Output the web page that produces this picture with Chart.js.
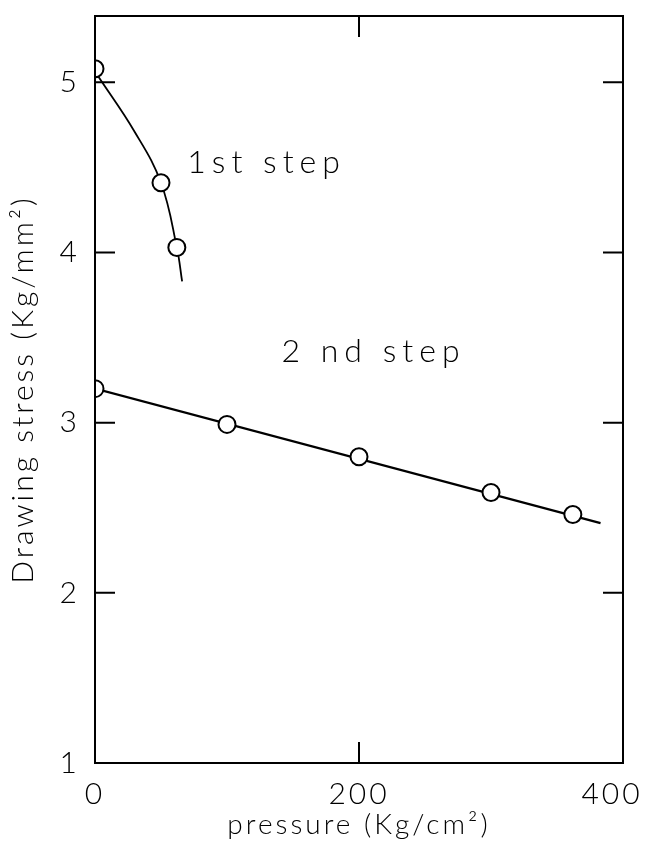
<!DOCTYPE html>
<html>
<head>
<meta charset="utf-8">
<script src="https://cdn.jsdelivr.net/npm/chart.js@4.4.1/dist/chart.umd.min.js"></script>
<style>
  html, body { margin: 0; padding: 0; background: #fff; }
</style>
</head>
<body>
<canvas id="chart" width="645" height="842"></canvas>
<script>
// measured points, 1st and 2nd drawing step
const step1Pressure = [0, 50, 62]
const step1Stress = [5.08, 4.41, 4.03]
const step2Pressure = [0, 100, 200, 300, 362]
const step2Stress = [3.20, 2.99, 2.80, 2.59, 2.46]

// hand drawn curves through the points
const curve1Pressure = [2, 30, 50, 62, 66]
const curve1Stress = [5.04, 4.71, 4.41, 4.03, 3.83]
const curve2Pressure = [0, 383]
const curve2Stress = [3.20, 2.41]

const xTicks = [0, 200, 400]
const yTicks = [1, 2, 3, 4, 5]
const xInnerTicks = [200]
const yInnerTicks = [2, 3, 4, 5]

const labels = [
  { text: "1st step", x: 130, y: 4.53 },
  { text: "2 nd step", x: 211, y: 3.42 }
]

const FONT = "Lato"
const toPoints = (xs, ys) => xs.map((x, i) => ({ x, y: ys[i] }))

const frame = {
  id: "frame",
  afterDatasetsDraw(chart) {
    const { ctx, chartArea: a, scales: { x, y } } = chart
    ctx.save()
    ctx.strokeStyle = "#000"
    ctx.lineWidth = 2
    ctx.strokeRect(a.left, a.top, a.right - a.left, a.bottom - a.top)
    ctx.beginPath()
    yInnerTicks.forEach((v) => {
      const py = y.getPixelForValue(v)
      ctx.moveTo(a.left, py); ctx.lineTo(a.left + 20, py)
      ctx.moveTo(a.right, py); ctx.lineTo(a.right - 20, py)
    })
    xInnerTicks.forEach((v) => {
      const px = x.getPixelForValue(v)
      ctx.moveTo(px, a.bottom); ctx.lineTo(px, a.bottom - 21)
      ctx.moveTo(px, a.top); ctx.lineTo(px, a.top + 21)
    })
    ctx.stroke()

    ctx.fillStyle = "#000"
    ctx.font = `300 32px ${FONT}`
    ctx.letterSpacing = "6px"
    ctx.textAlign = "center"
    ctx.textBaseline = "middle"
    labels.forEach((l) => {
      ctx.fillText(l.text, x.getPixelForValue(l.x), y.getPixelForValue(l.y))
    })
    ctx.restore()
  }
}

const spaced = {
  id: "spaced",
  beforeDraw(chart) {
    chart.ctx.letterSpacing = "3px"
    // the "400" label sits a little inside the frame in the original
    const items = chart.scales.x.getLabelItems()
    const last = items[items.length - 1]
    if (last && !last.shifted) {
      last.options.translation[0] -= 11
      last.shifted = true
    }
  },
  afterDraw(chart) { chart.ctx.letterSpacing = "0px" }
}

new Chart(document.getElementById("chart"), {
  type: "scatter",
  data: {
    datasets: [
      {
        data: toPoints(step1Pressure, step1Stress),
        pointStyle: "circle",
        pointRadius: 8.5,
        pointBorderWidth: 2,
        pointBackgroundColor: "#fff",
        pointBorderColor: "#000",
        order: 0
      },
      {
        data: toPoints(step2Pressure, step2Stress),
        pointStyle: "circle",
        pointRadius: 8.5,
        pointBorderWidth: 2,
        pointBackgroundColor: "#fff",
        pointBorderColor: "#000",
        order: 0
      },
      {
        data: toPoints(curve1Pressure, curve1Stress),
        showLine: true,
        tension: 0.4,
        borderColor: "#000",
        borderWidth: 1.8,
        pointRadius: 0,
        order: 1
      },
      {
        data: toPoints(curve2Pressure, curve2Stress),
        showLine: true,
        borderColor: "#000",
        borderWidth: 2.2,
        pointRadius: 0,
        order: 1
      }
    ]
  },
  options: {
    responsive: false,
    animation: false,
    layout: { padding: { top: 16, right: 22, left: 0, bottom: 0 } },
    plugins: {
      legend: { display: false },
      tooltip: { enabled: false }
    },
    scales: {
      x: {
        type: "linear",
        min: 0,
        max: 400,
        afterBuildTicks: (scale) => { scale.ticks = xTicks.map((value) => ({ value })) },
        afterFit: (scale) => {
          scale.height = 79
          scale.paddingLeft = 0
          scale.paddingRight = 0
        },
        grid: { display: false, drawTicks: false },
        border: { display: false },
        ticks: {
          padding: 13,
          color: "#000",
          maxRotation: 0,
          font: { family: FONT, size: 30, weight: "300" }
        },
        title: {
          display: true,
          text: "pressure (Kg/cm²)",
          color: "#000",
          padding: { top: 0, bottom: 0 },
          font: { family: FONT, size: 28, weight: "300" }
        }
      },
      y: {
        type: "linear",
        min: 1,
        max: 5.39,
        afterBuildTicks: (scale) => { scale.ticks = yTicks.map((value) => ({ value })) },
        afterFit: (scale) => {
          scale.width = 95
          scale.paddingTop = 0
          scale.paddingBottom = 0
        },
        grid: { display: false, drawTicks: false },
        border: { display: false },
        ticks: {
          padding: 15,
          color: "#000",
          font: { family: FONT, size: 30, weight: "300" }
        },
        title: {
          display: true,
          text: "Drawing stress (Kg/mm²)",
          color: "#000",
          padding: { top: 5, bottom: 0 },
          font: { family: FONT, size: 30, weight: "300" }
        }
      }
    }
  },
  plugins: [spaced, frame]
})
</script>
</body>
</html>
